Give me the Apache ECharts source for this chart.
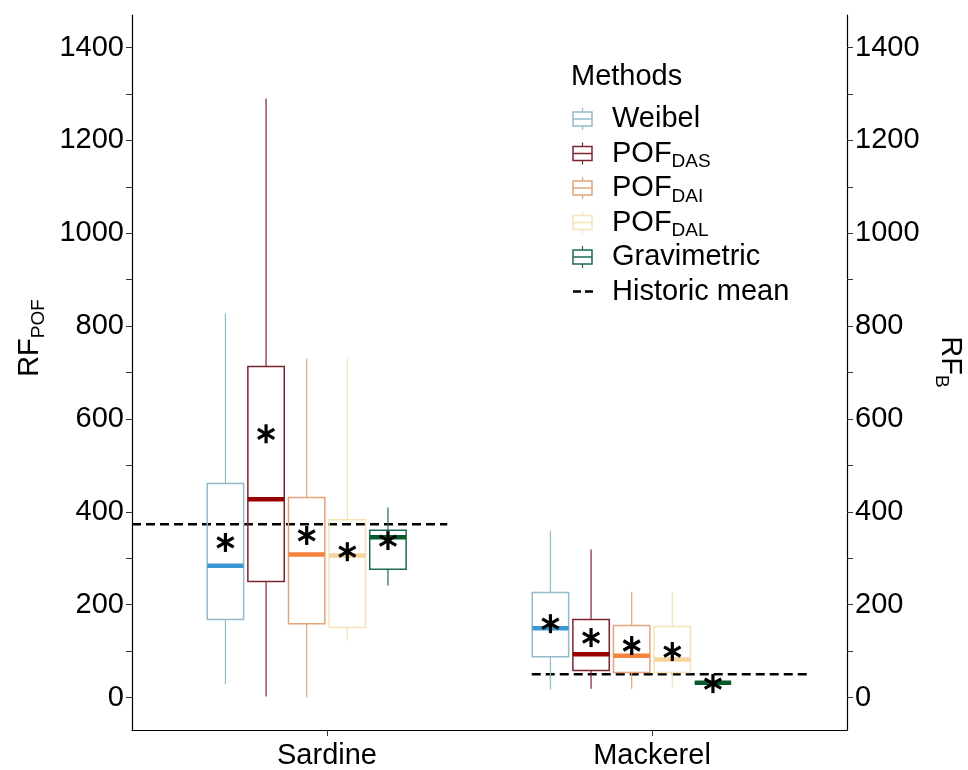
<!DOCTYPE html>
<html>
<head>
<meta charset="utf-8">
<script src="https://cdn.jsdelivr.net/npm/echarts@6/dist/echarts.min.js"></script>
<style>
  html, body { margin: 0; padding: 0; background: #fff; }
  #box { width: 968px; height: 770px; }
</style>
</head>
<body>
<div id="box"></div>
<script>
// data: [min, q1, median, q3, max] per species (Sardine, Mackerel)
var species = ['Sardine', 'Mackerel'];
var methods = ['Weibel', 'POF_DAS', 'POF_DAI', 'POF_DAL', 'Gravimetric'];

var weibelBox = [[28, 168, 284, 461, 827], [17, 88, 149, 226, 360]];
var dasBox    = [[2, 250, 427, 713, 1290], [19, 58, 93, 168, 319]];
var daiBox    = [[0, 159, 308, 431, 730], [19, 54, 90, 155, 228]];
var dalBox    = [[123, 151, 306, 383, 730], [22, 54, 82, 153, 228]];
var gravBox   = [[241, 276, 345, 360, 409], [32, 32, 32, 32, 32]];

var weibelMean = [334, 159];
var dasMean    = [568, 129];
var daiMean    = [349, 112];
var dalMean    = [314, 99];
var gravMean   = [338, 30];

var historicMean = [373, 50];
var historicFrom = [0.4, 1.63];
var historicTo   = [1.37, 2.49];

var yLabelValues = [0, 200, 400, 600, 800, 1000, 1200, 1400];
var yTickValues  = [0, 100, 200, 300, 400, 500, 600, 700, 800, 900, 1000, 1100, 1200, 1300, 1400];

var lineColors = ['#92bccb', '#7b2431', '#e4a47c', '#f6e3b8', '#1d6a57'];
var medColors  = ['#3d97d3', '#9b0000', '#f6813a', '#f8d39a', '#0b5a2b'];

var allBoxes = [weibelBox, dasBox, daiBox, dalBox, gravBox];
var allMeans = [weibelMean, dasMean, daiMean, dalMean, gravMean];

var FONT = '"Liberation Sans", Arial, sans-serif';
var FS = 29;
var slot = 0.125;     // dodge step
var boxW = 0.112;

var myChart = echarts.init(document.getElementById('box'));

// six-armed asterisk drawn around the mean point
function asterisk(cx, cy) {
  var r = 9.5, out = [];
  var angs = [90, 30, 150];
  for (var a = 0; a < angs.length; a++) {
    var t = angs[a] * Math.PI / 180;
    out.push({
      type: 'line', z2: 10,
      shape: { x1: cx - r * Math.cos(t), y1: cy - r * Math.sin(t), x2: cx + r * Math.cos(t), y2: cy + r * Math.sin(t) },
      style: { stroke: '#000', lineWidth: 3.2 }
    });
  }
  return out;
}

function boxRender(k) {
  return function (params, api) {
    var x = api.value(0) + (k - 2.5) * slot;
    var pMin = api.coord([x, api.value(1)]);
    var pQ1 = api.coord([x, api.value(2)]);
    var pMed = api.coord([x, api.value(3)]);
    var pQ3 = api.coord([x, api.value(4)]);
    var pMax = api.coord([x, api.value(5)]);
    var pMean = api.coord([x, api.value(6)]);
    var hw = api.size([boxW, 0])[0] / 2;
    var lc = lineColors[k];
    var kids = [
      { type: 'line', shape: { x1: pMax[0], y1: pMax[1], x2: pQ3[0], y2: pQ3[1] }, style: { stroke: lc, lineWidth: 1.2 } },
      { type: 'line', shape: { x1: pQ1[0], y1: pQ1[1], x2: pMin[0], y2: pMin[1] }, style: { stroke: lc, lineWidth: 1.2 } },
      { type: 'rect', shape: { x: pQ3[0] - hw, y: pQ3[1], width: hw * 2, height: pQ1[1] - pQ3[1] }, style: { fill: 'none', stroke: lc, lineWidth: 1.5 } },
      { type: 'line', shape: { x1: pMed[0] - hw, y1: pMed[1], x2: pMed[0] + hw, y2: pMed[1] }, style: { stroke: medColors[k], lineWidth: 4.5 } }
    ];
    return { type: 'group', children: kids.concat(asterisk(pMean[0], pMean[1])) };
  };
}

var series = [];
for (var k = 0; k < methods.length; k++) {
  var d = [];
  for (var i = 0; i < species.length; i++) {
    d.push([i + 1].concat(allBoxes[k][i]).concat([allMeans[k][i]]));
  }
  series.push({
    name: methods[k],
    type: 'custom',
    z: 3,
    renderItem: boxRender(k),
    encode: { x: 0, y: [1, 2, 3, 4, 5] },
    data: d
  });
}

var histData = [];
for (var j = 0; j < species.length; j++) histData.push([historicFrom[j], historicTo[j], historicMean[j]]);
series.push({
  name: 'Historic mean',
  type: 'custom',
  z: 2,
  renderItem: function (params, api) {
    var a = api.coord([api.value(0), api.value(2)]);
    var b = api.coord([api.value(1), api.value(2)]);
    return { type: 'line', shape: { x1: a[0], y1: a[1], x2: b[0], y2: b[1] }, style: { stroke: '#000', lineWidth: 2.6, lineDash: [9, 5] } };
  },
  encode: { x: [0, 1], y: 2 },
  data: histData
});

// legend drawn as graphic
var rich = {
  m: { fontSize: FS, fontFamily: FONT, color: '#000', lineHeight: 36, verticalAlign: 'middle' },
  s: { fontSize: 19, fontFamily: FONT, color: '#000', lineHeight: 19, verticalAlign: 'bottom' }
};
var legendLabels = ['{m|Weibel}', '{m|POF}{s|DAS}', '{m|POF}{s|DAI}', '{m|POF}{s|DAL}', '{m|Gravimetric}'];
var graphics = [
  { type: 'text', x: 571, y: 77, style: { text: 'Methods', fontSize: FS, fontFamily: FONT, fill: '#000', verticalAlign: 'middle' } }
];
for (var g = 0; g < methods.length; g++) {
  var cy = 119 + g * 34.5;
  graphics.push({ type: 'line', shape: { x1: 582.5, y1: cy - 11, x2: 582.5, y2: cy + 11 }, style: { stroke: lineColors[g], lineWidth: 1.2 } });
  graphics.push({ type: 'rect', shape: { x: 573, y: cy - 7, width: 19, height: 14 }, style: { fill: '#fff', stroke: lineColors[g], lineWidth: 1.5 } });
  graphics.push({ type: 'line', shape: { x1: 573, y1: cy, x2: 592, y2: cy }, style: { stroke: lineColors[g], lineWidth: 1.5 } });
  graphics.push({ type: 'text', x: 612, y: cy, style: { text: legendLabels[g], rich: rich, verticalAlign: 'middle', align: 'left' } });
}
var hy = 119 + 5 * 34.5;
graphics.push({ type: 'line', shape: { x1: 573, y1: hy, x2: 593, y2: hy }, style: { stroke: '#000', lineWidth: 2.6, lineDash: [8, 4] } });
graphics.push({ type: 'text', x: 612, y: hy, style: { text: 'Historic mean', fontSize: FS, fontFamily: FONT, fill: '#000', verticalAlign: 'middle' } });

// axis titles with subscripts
graphics.push({ type: 'text', x: 30, y: 338, rotation: Math.PI / 2, style: { text: '{m|RF}{s|POF}', rich: rich, align: 'center', verticalAlign: 'middle' } });
graphics.push({ type: 'text', x: 950, y: 362, rotation: -Math.PI / 2, style: { text: '{m|RF}{s|B}', rich: rich, align: 'center', verticalAlign: 'middle' } });

function yAxisDef(pos) {
  return {
    type: 'value',
    position: pos,
    min: -70,
    max: 1470,
    axisLine: { show: true, lineStyle: { color: '#000', width: 1.2 } },
    axisTick: { show: true, length: 6, customValues: yTickValues, lineStyle: { color: '#333' } },
    axisLabel: {
      customValues: yLabelValues, color: '#000', fontSize: FS, fontFamily: FONT, margin: 8,
      formatter: function (v) { return String(v); }
    },
    splitLine: { show: false }
  };
}

var option = {
  animation: false,
  backgroundColor: '#fff',
  grid: { left: 132, right: 121, top: 15, bottom: 40 },
  xAxis: {
    type: 'value',
    min: 0.4,
    max: 2.6,
    axisLine: { show: true, onZero: false, lineStyle: { color: '#000', width: 1.2 } },
    axisTick: { show: true, length: 6, customValues: [1, 2], lineStyle: { color: '#333' } },
    axisLabel: {
      customValues: [1, 2],
      color: '#000', fontSize: FS, fontFamily: FONT, margin: 11,
      formatter: function (v) { return species[Math.round(v) - 1] || ''; }
    },
    splitLine: { show: false }
  },
  yAxis: [yAxisDef('left'), yAxisDef('right')],
  graphic: graphics,
  series: series
};

myChart.setOption(option);
</script>
</body>
</html>
